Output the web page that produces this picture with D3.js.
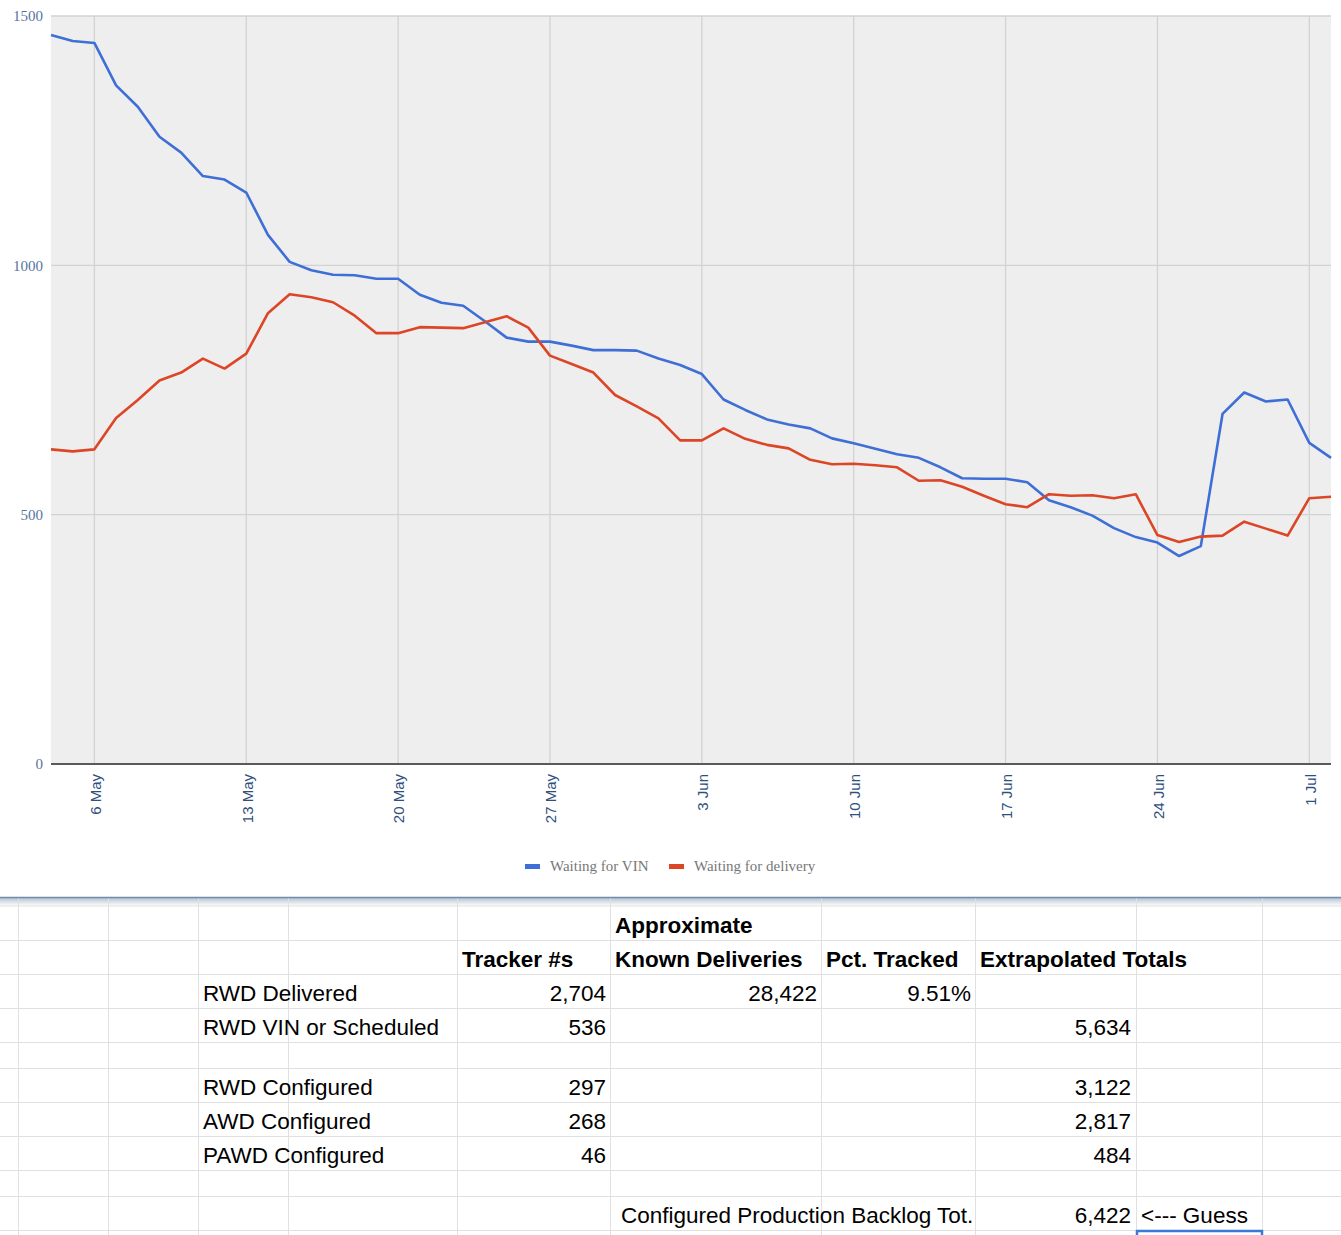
<!DOCTYPE html>
<html>
<head>
<meta charset="utf-8">
<script src="https://cdn.jsdelivr.net/npm/d3@7"></script>
<style>
  body { margin: 0; background: #fff; }
  svg { display: block; }
</style>
</head>
<body>
<div id="chart"></div>
<script>
// daily samples, 4 May .. 2 Jul
var startDay = new Date(2024, 4, 4);
var endDay = new Date(2024, 6, 2);
var seriesNames = ["Waiting for VIN", "Waiting for delivery"];
var seriesColors = ["#3f6fd6", "#dc4626"];

var waitingVin = [
    1462, 1450, 1446, 1361, 1318, 1258, 1226, 1179, 1172, 1146,
    1061, 1007, 990, 981, 980, 973, 973, 941, 925, 919,
    888, 855, 847, 847, 839, 830, 830, 829, 813, 800,
    782, 731, 710, 691, 681, 673, 653, 643, 632, 621,
    614, 595, 573, 572, 572, 565, 529, 515, 498, 473,
    455, 444, 417, 437, 702, 745, 727, 731, 644, 614
];
var waitingDelivery = [
    631, 627, 631, 694, 730, 769, 785, 813, 793, 823,
    904, 942, 936, 926, 899, 864, 864, 876, 875, 874,
    886, 898, 875, 819, 802, 785, 740, 717, 693, 649,
    649, 673, 652, 640, 633, 610, 601, 602, 599, 595,
    568, 569, 556, 538, 521, 515, 541, 538, 539, 533,
    541, 459, 445, 456, 458, 486, 472, 458, 533, 536
];
var yTicks = [0, 500, 1000, 1500];

// spreadsheet below the chart
var headerTop = ["", "", "", "", "", "Approximate", "", "", ""];
var headerCols = ["", "", "", "", "Tracker #s", "Known Deliveries", "Pct. Tracked", "Extrapolated Totals", ""];
var rowLabels = ["RWD Delivered", "RWD VIN or Scheduled", "", "RWD Configured", "AWD Configured", "PAWD Configured", ""];
var trackerNums = ["2,704", "536", "", "297", "268", "46", ""];
var knownDeliveries = ["28,422", "", "", "", "", "", ""];
var pctTracked = ["9.51%", "", "", "", "", "", ""];
var extrapolated = ["", "5,634", "", "3,122", "2,817", "484", ""];
var backlogLabel = "Configured Production Backlog Tot.";
var backlogValue = "6,422";
var backlogNote = "<--- Guess";

var width = 1341;
var height = 1235;
var plot = { left: 51, right: 1331, top: 16, bottom: 764 };

var svg = d3.select("#chart").append("svg")
    .attr("width", width)
    .attr("height", height);

var days = d3.timeDay.range(startDay, d3.timeDay.offset(endDay, 1));

var x = d3.scaleTime()
    .domain([startDay, endDay])
    .range([plot.left, plot.right]);

var y = d3.scaleLinear()
    .domain([0, 1500])
    .range([plot.bottom, plot.top]);

// plot background
svg.append("rect")
    .attr("x", plot.left)
    .attr("y", plot.top)
    .attr("width", plot.right - plot.left)
    .attr("height", plot.bottom - plot.top)
    .attr("fill", "#eeeeee");

var weeks = d3.timeMonday.range(startDay, d3.timeDay.offset(endDay, 1));

// vertical grid lines, one per week
svg.append("g").selectAll("line")
    .data(weeks)
    .enter().append("line")
    .attr("x1", function(d) { return x(d); })
    .attr("x2", function(d) { return x(d); })
    .attr("y1", plot.top)
    .attr("y2", plot.bottom)
    .attr("stroke", "#d2d2d2")
    .attr("stroke-width", 1.3);

// horizontal grid lines
svg.append("g").selectAll("line")
    .data(yTicks.slice(1))
    .enter().append("line")
    .attr("x1", plot.left)
    .attr("x2", plot.right)
    .attr("y1", function(d) { return y(d); })
    .attr("y2", function(d) { return y(d); })
    .attr("stroke", "#d2d2d2")
    .attr("stroke-width", 1.3);

// y labels
svg.append("g").selectAll("text")
    .data(yTicks)
    .enter().append("text")
    .attr("x", 43)
    .attr("y", function(d) { return y(d); })
    .attr("dy", "0.35em")
    .attr("text-anchor", "end")
    .attr("font-family", "'Liberation Serif', 'Times New Roman', serif")
    .attr("font-size", 15)
    .attr("fill", "#56749f")
    .text(function(d) { return d; });

// x labels, rotated
var fmt = d3.timeFormat("%-d %b");
svg.append("g").selectAll("text")
    .data(weeks)
    .enter().append("text")
    .attr("transform", function(d) { return "translate(" + (x(d) + 1) + ",774) rotate(-90)"; })
    .attr("dy", "0.35em")
    .attr("text-anchor", "end")
    .attr("font-family", "'Liberation Sans', Arial, sans-serif")
    .attr("font-size", 15)
    .attr("fill", "#2f4f7d")
    .text(function(d) { return fmt(d); });

// series lines
var line = d3.line()
    .x(function(d, i) { return x(days[i]); })
    .y(function(d) { return y(d); });

[waitingVin, waitingDelivery].forEach(function(values, k) {
    svg.append("path")
        .datum(values)
        .attr("d", line)
        .attr("fill", "none")
        .attr("stroke", seriesColors[k])
        .attr("stroke-width", 2.6)
        .attr("stroke-linejoin", "round");
});

// zero baseline
svg.append("line")
    .attr("x1", plot.left)
    .attr("x2", plot.right)
    .attr("y1", y(0))
    .attr("y2", y(0))
    .attr("stroke", "#5a5a5a")
    .attr("stroke-width", 2);

// legend
var legendX = [525, 669];
var legend = svg.append("g").selectAll("g")
    .data(seriesNames)
    .enter().append("g")
    .attr("transform", function(d, i) { return "translate(" + legendX[i] + ",0)"; });
legend.append("rect")
    .attr("x", 0)
    .attr("y", 864)
    .attr("width", 15)
    .attr("height", 5)
    .attr("fill", function(d, i) { return seriesColors[i]; });
legend.append("text")
    .attr("x", 25)
    .attr("y", 871)
    .attr("font-family", "'Liberation Serif', 'Times New Roman', serif")
    .attr("font-size", 15)
    .attr("fill", "#777777")
    .text(function(d) { return d; });

// ---- spreadsheet grid ----
var colEdges = [18, 108, 198, 288, 457, 610, 821, 975, 1136, 1262];
var rowEdges = [906, 940.5, 974.5, 1008.5, 1042.5, 1068.5, 1102.5, 1136.5, 1170.5, 1196.5, 1230.5];

var defs = svg.append("defs");
var grad = defs.append("linearGradient")
    .attr("id", "shade")
    .attr("x1", 0).attr("y1", 0).attr("x2", 0).attr("y2", 1);
grad.append("stop").attr("offset", "0%").attr("stop-color", "#b9c4d0");
grad.append("stop").attr("offset", "100%").attr("stop-color", "#ffffff");

svg.append("rect")
    .attr("x", 0).attr("y", 898)
    .attr("width", width).attr("height", 8)
    .attr("fill", "url(#shade)");

var grid = svg.append("g");
grid.selectAll("line.v")
    .data(colEdges)
    .enter().append("line")
    .attr("x1", function(d) { return d + 0.5; })
    .attr("x2", function(d) { return d + 0.5; })
    .attr("y1", 898)
    .attr("y2", height)
    .attr("stroke", "#e0e0e0");
grid.selectAll("line.h")
    .data(rowEdges)
    .enter().append("line")
    .attr("x1", 0)
    .attr("x2", width)
    .attr("y1", function(d) { return d; })
    .attr("y2", function(d) { return d; })
    .attr("stroke", "#e0e0e0");

svg.append("line")
    .attr("x1", 0).attr("x2", width)
    .attr("y1", 897.5).attr("y2", 897.5)
    .attr("stroke", "#6f8dab")
    .attr("stroke-width", 1.5);

var cellFont = "'Liberation Sans', Arial, sans-serif";
var fontSize = 22.5;

function cellText(txt, xPos, yPos, anchor, bold) {
    if (!txt) return null;
    return svg.append("text")
        .attr("x", xPos)
        .attr("y", yPos)
        .attr("text-anchor", anchor)
        .attr("font-family", cellFont)
        .attr("font-size", fontSize)
        .attr("font-weight", bold ? "bold" : "normal")
        .attr("fill", "#000")
        .text(txt);
}

// header rows
headerTop.forEach(function(t, i) { cellText(t, colEdges[i] + 5, 933, "start", true); });
headerCols.forEach(function(t, i) { cellText(t, colEdges[i] + 5, 967, "start", true); });

// body rows
var bodyRows = [1, 2, 3, 4, 5, 6, 7];
var rowBase = [1001, 1035, 1061, 1095, 1129, 1163, 1189];
rowLabels.forEach(function(t, r) {
    cellText(t, colEdges[3] - 85, rowBase[r], "start", false);
    cellText(trackerNums[r], colEdges[5] - 4, rowBase[r], "end", false);
    cellText(knownDeliveries[r], colEdges[6] - 4, rowBase[r], "end", false);
    cellText(pctTracked[r], colEdges[7] - 4, rowBase[r], "end", false);
    cellText(extrapolated[r], colEdges[8] - 5, rowBase[r], "end", false);
});

// backlog row, label overflows across cells but is clipped at the value column
defs.append("clipPath").attr("id", "clipBacklog")
    .append("rect")
    .attr("x", colEdges[5]).attr("y", 1196)
    .attr("width", colEdges[7] - colEdges[5]).attr("height", 34);
cellText(backlogLabel, colEdges[5] + 11, 1223, "start", false)
    .attr("clip-path", "url(#clipBacklog)");
cellText(backlogValue, colEdges[8] - 5, 1223, "end", false);
cellText(backlogNote, colEdges[8] + 5, 1223, "start", false);

// selected cell outline
svg.append("rect")
    .attr("x", colEdges[8] + 1)
    .attr("y", 1231)
    .attr("width", colEdges[9] - colEdges[8] - 1)
    .attr("height", 20)
    .attr("fill", "none")
    .attr("stroke", "#3b78d8")
    .attr("stroke-width", 2.5);
</script>
</body>
</html>
